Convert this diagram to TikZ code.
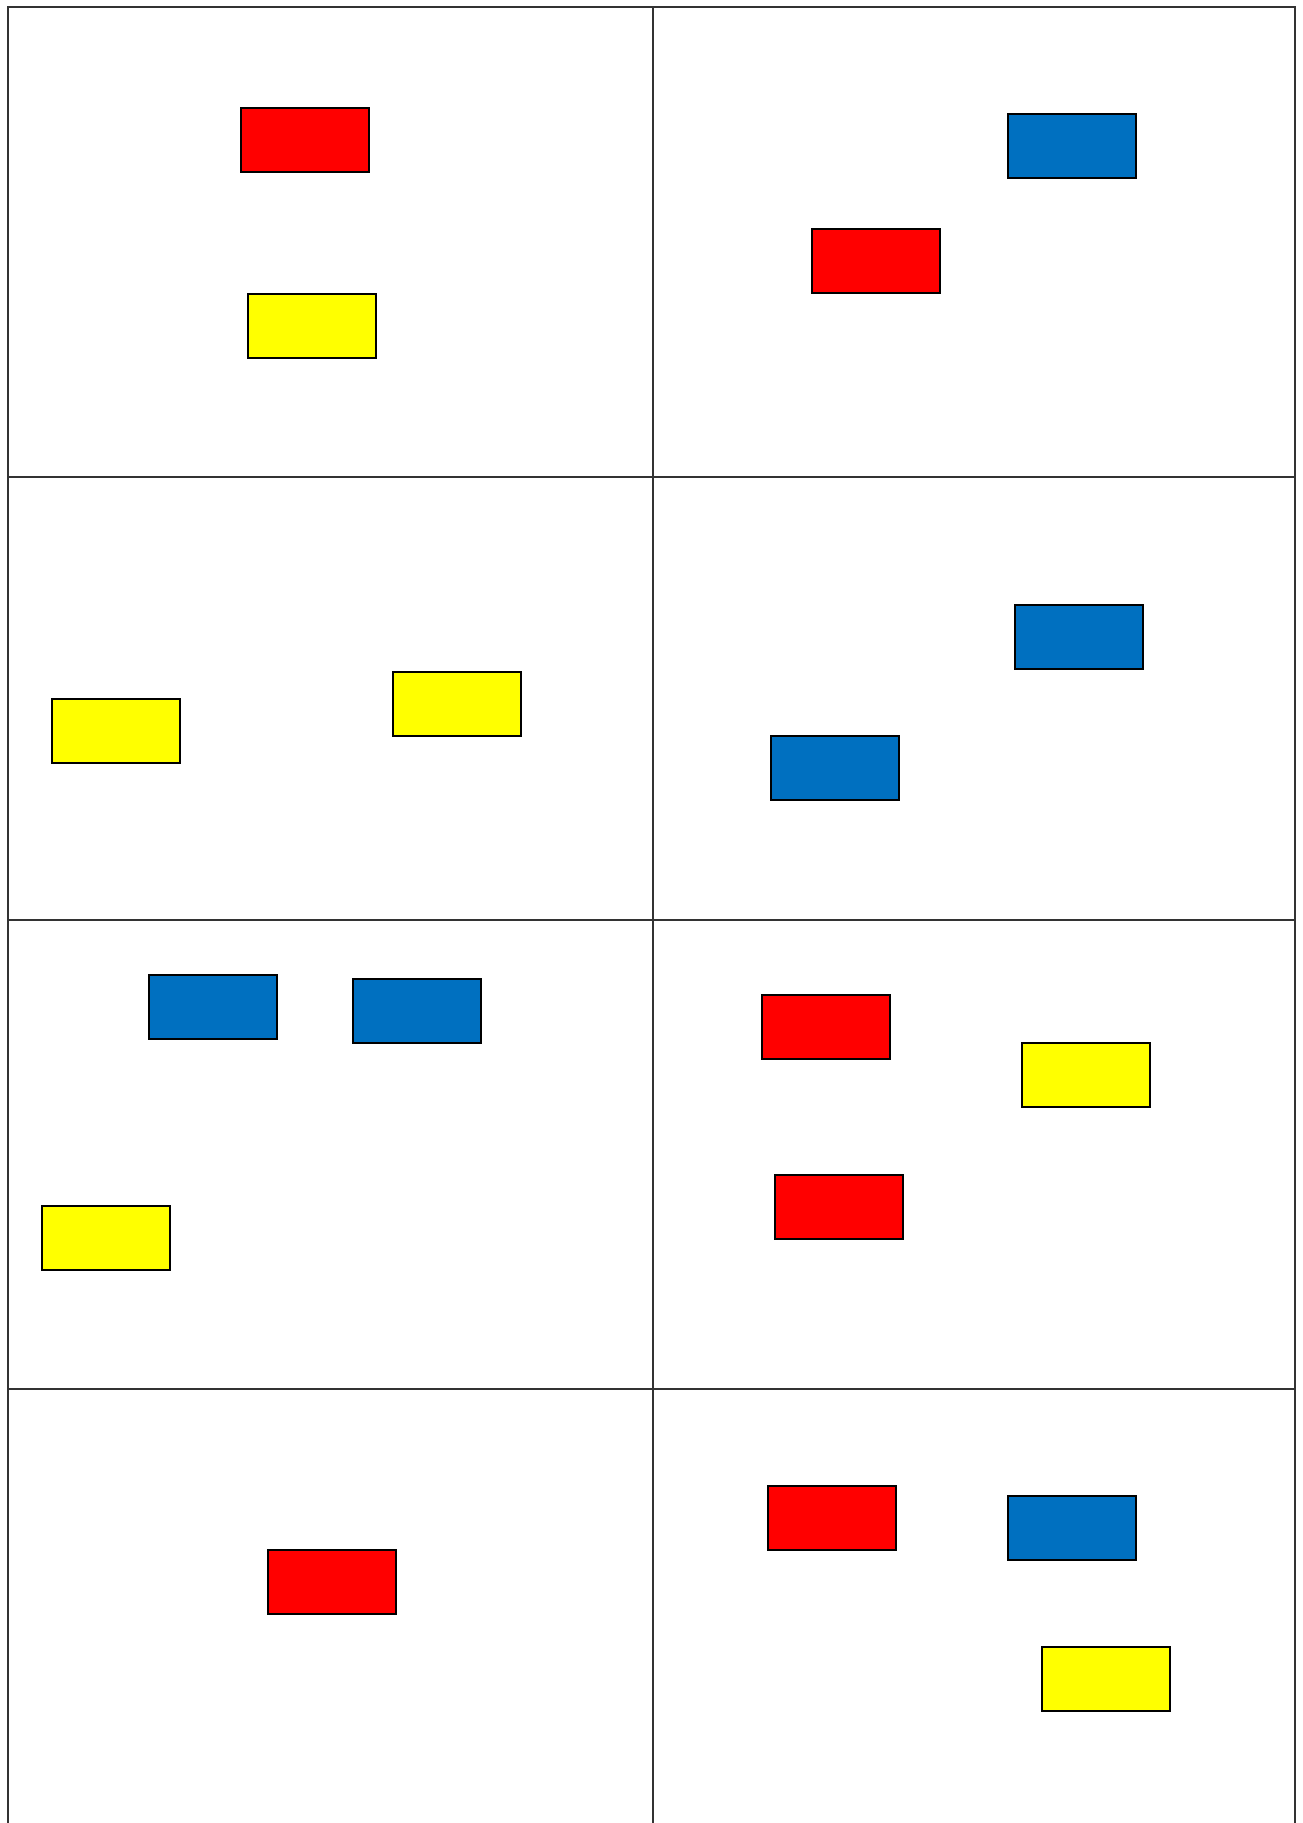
\documentclass[tikz,border=0pt]{standalone}
\usepackage{tikz}
\usetikzlibrary{positioning}
\definecolor{cardblue}{HTML}{0070C0}
\definecolor{cardred}{HTML}{FF0000}
\definecolor{cardyellow}{HTML}{FFFF00}
\definecolor{gridgray}{HTML}{333333}

\begin{document}
\begin{tikzpicture}[
                x=0.01cm, y=-0.01cm,
                card/.style={draw=black, line width=0.6pt, rectangle, minimum width=1.28cm, minimum height=0.64cm, inner sep=0pt},
                redcard/.style={card, fill=cardred},
                yellowcard/.style={card, fill=cardyellow},
                bluecard/.style={card, fill=cardblue},
                gridline/.style={draw=gridgray, line width=0.7pt}
            ]
            \useasboundingbox (0,0) rectangle (1302,1823);

            % Raster
            \coordinate (tl) at (8,7);
            \coordinate (tm) at (653,7);
            \coordinate (tr) at (1295,7);
            \coordinate (bl) at (8,1823);
            \coordinate (bm) at (653,1823);
            \coordinate (br) at (1295,1823);
            \draw[gridline] (bl) -- (tl) -- (tr) -- (br);
            \draw[gridline] (tm) -- (bm);
            \foreach \row in {477,920,1389}
                \draw[gridline] (8,\row) -- (1295,\row);

            % Feld 1
            \node[redcard] (r1) at (305,140) {};
            \node[yellowcard] (y1) at (312,326) {};
            % Feld 2
            \node[bluecard] (b2) at (1072,146) {};
            \node[redcard] (r2) at (876,261) {};
            % Feld 3
            \node[yellowcard] (y3a) at (116,731) {};
            \node[yellowcard] (y3b) at (457,704) {};
            % Feld 4
            \node[bluecard] (b4a) at (1079,637) {};
            \node[bluecard] (b4b) at (835,768) {};
            % Feld 5
            \node[bluecard] (b5a) at (213,1007) {};
            \node[bluecard] (b5b) at (417,1011) {};
            \node[yellowcard] (y5) at (106,1238) {};
            % Feld 6
            \node[redcard] (r6a) at (826,1027) {};
            \node[yellowcard] (y6) at (1086,1075) {};
            \node[redcard] (r6b) at (839,1207) {};
            % Feld 7
            \node[redcard] (r7) at (332,1582) {};
            % Feld 8
            \node[redcard] (r8) at (832,1518) {};
            \node[bluecard] (b8) at (1072,1528) {};
            \node[yellowcard] (y8) at (1106,1679) {};

        \end{tikzpicture}
\end{document}
